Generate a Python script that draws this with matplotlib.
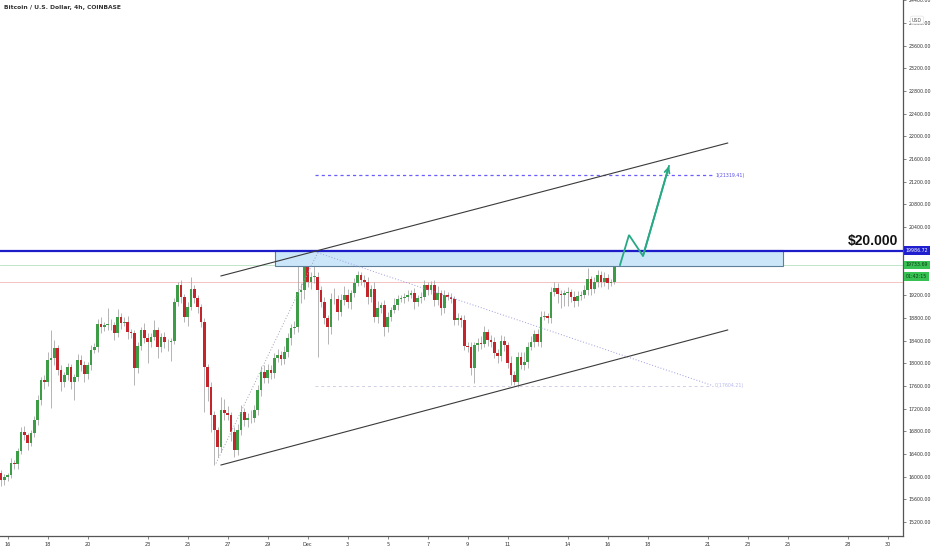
import matplotlib
matplotlib.use("Agg")
import matplotlib.pyplot as plt
import matplotlib.transforms as mtransforms
from matplotlib.patches import Rectangle
import numpy as np
import pandas as pd

# BTCUSD 4h candles, first one Nov 15 2020 16:00
first_open = 16065
closes = [
    15941, 15994, 16029, 16241, 16224, 16453, 16788, 16734, 16593, 16770,
    16999, 17352, 17705, 17669, 18057, 18093, 18269, 17881, 17669, 17793,
    17934, 17669, 17757, 18057, 17969, 17810, 17969, 18234, 18287, 18692,
    18639, 18675, 18680, 18670, 18534, 18816, 18710, 18727, 18551, 18534,
    17916, 18304, 18587, 18445, 18375, 18463, 18587, 18287, 18463, 18375,
    18370, 18393, 19080, 19380, 19168, 18816, 18992, 19310, 19151, 18992,
    18727, 17934, 17581, 17087, 16823, 16523, 17176, 17123, 17087, 16788,
    16470, 16823, 17140, 16999, 17034, 17030, 17176, 17528, 17846, 17740,
    17881, 17828, 18093, 18146, 18075, 18199, 18445, 18622, 18639, 19257,
    19292, 19715, 19433, 19521, 19525, 19292, 19080, 18798, 18639, 19133,
    19130, 18904, 19116, 19204, 19080, 19239, 19415, 19556, 19468, 19433,
    19168, 19310, 18816, 18975, 19027, 18639, 18816, 18939, 19027, 19133,
    19151, 19168, 19204, 19239, 19080, 19151, 19168, 19380, 19292, 19380,
    19116, 19239, 18975, 19204, 19168, 19133, 18763, 18798, 18763, 18304,
    18287, 17916, 18322, 18357, 18340, 18551, 18410, 18375, 18181, 18128,
    18393, 18322, 18004, 17793, 17669, 18110, 17969, 18022, 18287, 18375,
    18516, 18375, 18816, 18833, 18798, 19257, 19327, 19221, 19204, 19239,
    19257, 19168, 19098, 19186, 19204, 19292, 19486, 19310, 19433, 19556,
    19433, 19503, 19415, 19433, 19733,
]
upper_wick = [
    60, 50, 40, 80, 60, 50, 90, 100, 40, 60,
    70, 80, 60, 90, 150, 490, 150, 60, 80, 60,
    70, 60, 50, 110, 90, 70, 60, 80, 70, 80,
    120, 60, 300, 100, 60, 140, 70, 90, 110, 60,
    60, 70, 60, 120, 80, 70, 180, 60, 70, 90,
    60, 50, 70, 60, 80, 60, 90, 210, 70, 60,
    60, 80, 60, 80, 70, 60, 230, 200, 120, 60,
    80, 110, 120, 80, 90, 140, 80, 90, 110, 120,
    100, 90, 80, 100, 70, 110, 90, 70, 110, 470,
    120, 60, 100, 90, 385, 80, 70, 80, 60, 100,
    200, 80, 100, 150, 110, 60, 90, 70, 60, 80,
    90, 70, 120, 120, 60, 80, 90, 60, 120, 70,
    60, 70, 80, 50, 90, 60, 80, 90, 60, 70,
    90, 120, 60, 80, 60, 70, 60, 90, 60, 90,
    70, 80, 60, 90, 120, 100, 60, 80, 90, 70,
    100, 80, 60, 120, 70, 80, 90, 180, 80, 110,
    70, 80, 100, 90, 60, 90, 110, 80, 70, 60,
    80, 60, 100, 90, 70, 80, 200, 60, 90, 80,
    70, 110, 80, 60, 40,
]
lower_wick = [
    100, 80, 70, 60, 90, 80, 60, 80, 120, 60,
    70, 90, 80, 120, 70, 850, 120, 90, 150, 80,
    90, 120, 320, 70, 100, 140, 80, 90, 60, 80,
    100, 70, 90, 80, 120, 70, 100, 60, 130, 90,
    300, 80, 70, 90, 370, 80, 60, 200, 80, 100,
    150, 330, 60, 70, 110, 90, 150, 60, 80, 100,
    90, 800, 250, 300, 620, 180, 90, 120, 80, 150,
    120, 90, 80, 100, 120, 90, 70, 80, 100, 90,
    80, 110, 90, 70, 100, 80, 90, 120, 100, 80,
    200, 150, 90, 120, 100, 1180, 90, 100, 300, 120,
    90, 140, 70, 80, 100, 120, 70, 60, 90, 80,
    120, 90, 80, 100, 90, 150, 80, 70, 60, 90,
    60, 80, 70, 60, 120, 70, 90, 60, 80, 70,
    100, 80, 120, 90, 60, 70, 80, 90, 120, 70,
    90, 120, 260, 100, 90, 60, 110, 80, 90, 120,
    80, 100, 90, 180, 60, 90, 70, 80, 100, 60,
    80, 70, 90, 60, 80, 90, 70, 160, 230, 200,
    230, 90, 100, 80, 70, 60, 90, 110, 70, 80,
    90, 70, 110, 60, 30,
]

start = pd.Timestamp("2020-11-15 16:00")
tick_dates = ["2020-11-16", "2020-11-18", "2020-11-20", "2020-11-23", "2020-11-25",
              "2020-11-27", "2020-11-29", "2020-12-01", "2020-12-03", "2020-12-05",
              "2020-12-07", "2020-12-09", "2020-12-11", "2020-12-14", "2020-12-16",
              "2020-12-18", "2020-12-21", "2020-12-23", "2020-12-25", "2020-12-28",
              "2020-12-30"]
tick_text = ["16", "18", "20", "23", "25", "27", "29", "Dec", "3", "5", "7", "9",
             "11", "14", "16", "18", "21", "23", "25", "28", "30"]
price_ticks = list(range(15200, 24401, 400))
hidden_ticks = [20000, 19600]   # covered by the price labels

resistance = 19986.72
last_price = 19733.69
prev_line = 19440
zone = (82.2, 234.6, 19715, 19990)          # x0, x1, low, high
upper_channel = [(66, 19540), (218, 21884)]
lower_channel = [(66, 16206), (218, 18587)]
fib_peak = (95, 19950)
fib_end = 213.6
fib_one = 21319.41
fib_zero = 17604.21
arrow_path = [(185.7, 19733), (188.4, 20262), (192.6, 19892), (200.4, 21479)]

opens = [first_open] + closes[:-1]
o = np.array(opens, float)
c = np.array(closes, float)
hi = np.maximum(o, c) + np.array(upper_wick)
lo = np.minimum(o, c) - np.array(lower_wick)
idx = np.arange(len(c))

fig = plt.figure(figsize=(9.32, 5.5), dpi=100)
ax = fig.add_axes((0, 14 / 550, 903 / 932, 536 / 550))
ax.set_xlim(-0.3, 270.6)
ax.set_ylim(14954, 24406)

green, red, wick = "#3d9c46", "#c4242b", "#a8a8a8"
up = c >= o
ax.vlines(idx, lo, hi, color=wick, lw=0.6, zorder=2)
body = np.maximum(np.abs(c - o), 12)
ax.bar(idx[up], body[up], bottom=o[up], width=0.74, color=green, lw=0, zorder=3)
ax.bar(idx[~up], body[~up], bottom=c[~up], width=0.74, color=red, lw=0, zorder=3)

# horizontal lines
ax.axhline(prev_line, color="#f2b8b8", lw=0.6, zorder=1)
ax.axhline(last_price, color="#b5e0c0", lw=0.6, zorder=1)
ax.add_patch(Rectangle((zone[0], zone[2]), zone[1] - zone[0], zone[3] - zone[2],
                       facecolor="#cbe6f9", edgecolor="#5d7f99", lw=0.8, zorder=4))
ax.axhline(resistance, color="#1c1cc8", lw=1.6, zorder=5)

# channel
for line in (upper_channel, lower_channel):
    xs, ys = zip(*line)
    ax.plot(xs, ys, color="#3a3a3a", lw=0.8, zorder=5)

# trend-based fib
fib_start = (64.5, fib_peak[1] - (fib_one - fib_zero))
ax.plot([fib_start[0], fib_peak[0]], [fib_start[1], fib_peak[1]], color="#a0a0b4",
        lw=0.7, ls=(0, (1, 2)), zorder=4)
ax.plot([fib_peak[0], fib_end], [fib_peak[1], fib_zero], color="#9c9ce0",
        lw=0.7, ls=(0, (1, 2)), zorder=4)
ax.plot([94.2, fib_end], [fib_one, fib_one], color="#6b5cff", lw=0.9,
        ls=(0, (2.5, 2.5)), zorder=4)
ax.plot([94.2, fib_end], [fib_zero, fib_zero], color="#cfcfe6", lw=0.7,
        ls=(0, (3, 3)), zorder=4)
ax.text(fib_end + 0.6, fib_one, "1(21319.41)", color="#5a50e6", fontsize=3.4,
        va="center", ha="left", zorder=6)
ax.text(fib_end + 0.6, fib_zero, "0(17604.21)", color="#b9b9ee", fontsize=3.4,
        va="center", ha="left", zorder=6)

# projected move
ax_x, ax_y = zip(*arrow_path)
ax.plot(ax_x, ax_y, color="#27a985", lw=1.3, zorder=7, solid_joinstyle="miter")
ax.annotate("", xy=arrow_path[-1], xytext=arrow_path[-2],
            arrowprops=dict(arrowstyle="->", color="#27a985", lw=1.3,
                            mutation_scale=9, shrinkA=0, shrinkB=0), zorder=7)

blend = mtransforms.blended_transform_factory(ax.transAxes, ax.transData)
ax.text(898 / 903, 20085, "$20.000", transform=blend, fontsize=10, fontweight="bold",
        family="Liberation Sans", ha="right", va="baseline", color="#111111", zorder=8)

# axes styling
for s in ("top", "left"):
    ax.spines[s].set_visible(False)
for s in ("right", "bottom"):
    ax.spines[s].set_color("#555555")
    ax.spines[s].set_linewidth(0.9)

ax.yaxis.tick_right()
ax.set_yticks(price_ticks)
ax.set_yticklabels(["" if v in hidden_ticks else f"{v:.2f}" for v in price_ticks])
ax.tick_params(axis="y", labelsize=3.4, length=2, width=0.5, pad=2,
               colors="#555555", labelcolor="#333333")

tick_pos = [(pd.Timestamp(d) - start) / pd.Timedelta(hours=4) for d in tick_dates]
ax.set_xticks(tick_pos)
ax.set_xticklabels(tick_text)
ax.tick_params(axis="x", labelsize=3.6, length=2, width=0.5, pad=2,
               colors="#555555", labelcolor="#333333")

ax.text(1.003, resistance, "19986.72", transform=blend, fontsize=3.4, color="white",
        va="center", ha="left", clip_on=False, zorder=9,
        bbox=dict(boxstyle="square,pad=0.35", fc="#1f1fd0", ec="none"))
ax.text(1.003, last_price, "19733.69", transform=blend, fontsize=3.4, color="#123d18",
        va="center", ha="left", clip_on=False, zorder=9,
        bbox=dict(boxstyle="square,pad=0.35", fc="#36c152", ec="none"))
ax.text(1.003, 19530, "01:42:15", transform=blend, fontsize=3.4, color="#123d18",
        va="center", ha="left", clip_on=False, zorder=9,
        bbox=dict(boxstyle="square,pad=0.35", fc="#36c152", ec="none"))

fig.text(917 / 932, 1 - 20 / 550, "USD", fontsize=3.4, color="#555555", ha="center",
         va="center", bbox=dict(boxstyle="round,pad=0.3", fc="white", ec="#dddddd", lw=0.4))
fig.text(4 / 932, 1 - 8 / 550, "Bitcoin / U.S. Dollar, 4h, COINBASE", fontsize=4.3,
         fontweight="bold", color="#333333", ha="left", va="center")

fig.savefig("out.png", dpi=100)
